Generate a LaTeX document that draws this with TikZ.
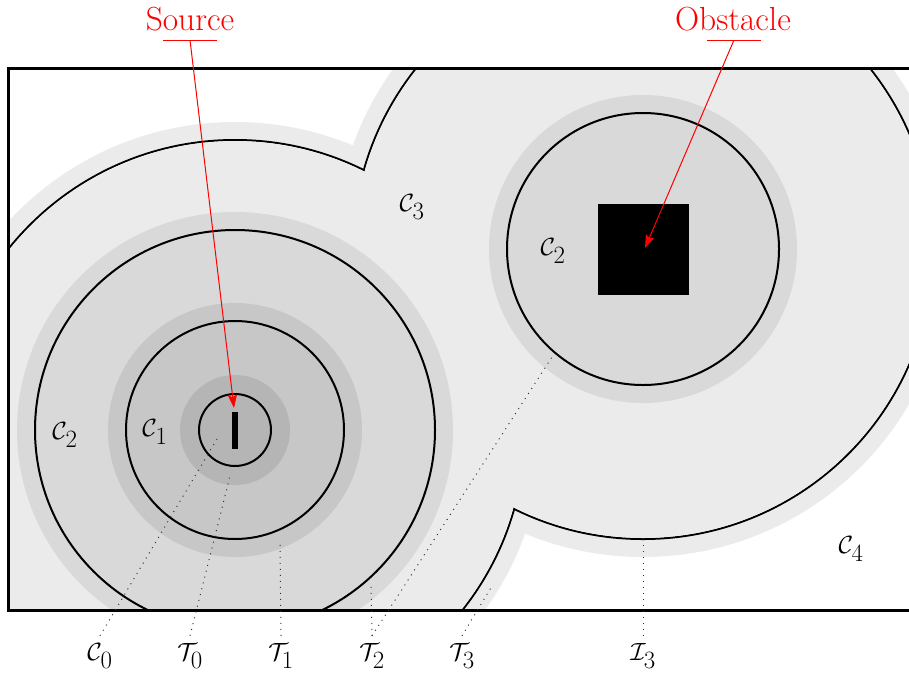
\documentclass[tikz,border=0pt]{standalone}
\usetikzlibrary{arrows.meta}
\begin{document}
\begin{tikzpicture}[x=1pt,y=-1pt,
  outline/.style={line width=2pt},
  lab/.style={font=\fontsize{33.4}{40}\selectfont, inner sep=0pt},
  pointer/.style={dash pattern=on 1pt off 5pt, line width=1pt, black!80},
  callout/.style={red, line width=1pt, -{Stealth[length=13pt,width=9pt,inset=2pt]}},
  uline/.style={red, line width=1pt},
]
\useasboundingbox (0,0) rectangle (909,675);
\coordinate (A) at (235,430);
\coordinate (B) at (643,249);
\begin{scope}
  \clip (8,68) rectangle (1000,610);
  % C3 region
  \fill[black!8] (A) circle[radius=308] (B) circle[radius=308];
  \draw[outline] (A) circle[radius=290] (B) circle[radius=290];
  \fill[black!8] (A) circle[radius=289] (B) circle[radius=289];
  % C2 regions
  \fill[black!15] (A) circle[radius=218] (B) circle[radius=154];
  \draw[outline] (A) circle[radius=200] (B) circle[radius=136];
  % C1
  \fill[black!22] (A) circle[radius=127];
  \draw[outline] (A) circle[radius=109];
  % C0
  \fill[black!29] (A) circle[radius=55];
  \draw[outline] (A) circle[radius=36];
  % source and obstacle
  \fill[black] (232,412) rectangle (238,449);
  \fill[black] (598,204) rectangle (689,295);
\end{scope}
\draw[line width=3pt] (8,68) rectangle (1000,610);

% region labels
\node[lab] (lc2a) at (65,435) {$\mathcal{C}_2$};
\node[lab] (lc1) at (155,432) {$\mathcal{C}_1$};
\node[lab] (lc2b) at (553,251) {$\mathcal{C}_2$};
\node[lab] (lc3) at (412,207) {$\mathcal{C}_3$};
\node[lab] (lc4) at (851,549) {$\mathcal{C}_4$};

% bottom labels
\node[lab, outer sep=8pt] (c0) at (100,656) {$\mathcal{C}_0$};
\node[lab, outer sep=8pt] (t0) at (190,656) {$\mathcal{T}_0$};
\node[lab, outer sep=8pt] (t1) at (281,656) {$\mathcal{T}_1$};
\node[lab, outer sep=8pt] (t2) at (372,656) {$\mathcal{T}_2$};
\node[lab, outer sep=8pt] (t3) at (462,656) {$\mathcal{T}_3$};
\node[lab, outer sep=8pt] (i3) at (643,656) {$\mathcal{I}_3$};

\coordinate (pc0) at (217,439);
\coordinate (pt0) at (230,476);
\coordinate (pt1) at (280,541);
\coordinate (pt2a) at (371,582);
\coordinate (pt2b) at (552,357);
\coordinate (pt3) at (492,586);
\coordinate (pi3) at (643,542);

\draw[pointer] (c0.north) -- (pc0);
\draw[pointer] (t0.north) -- (pt0);
\draw[pointer] (t1.north) -- (pt1);
\draw[pointer] (t2.north) -- (pt2a);
\draw[pointer] (t2.north) -- (pt2b);
\draw[pointer] (t3.north) -- (pt3);
\draw[pointer] (i3.north) -- (pi3);

% callouts
\node[lab, red] (src) at (190,19) {Source};
\node[lab, red] (obs) at (733,19) {Obstacle};
\coordinate (srcu) at (190,40);
\coordinate (obsu) at (734,40);
\coordinate (srctip) at (234,408);
\coordinate (obstip) at (645,248);
\draw[uline] ([xshift=-27pt]srcu) -- ([xshift=27pt]srcu);
\draw[uline] ([xshift=-27pt]obsu) -- ([xshift=27pt]obsu);
\draw[callout] (srcu) -- (srctip);
\draw[callout] (obsu) -- (obstip);
\end{tikzpicture}
\end{document}
